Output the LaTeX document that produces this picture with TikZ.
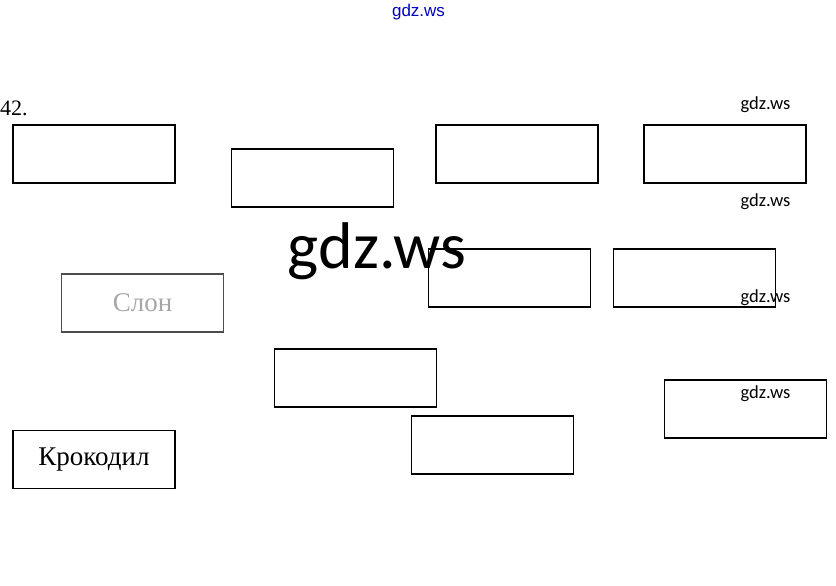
\documentclass[tikz,border=0pt]{standalone}
\usepackage{fontspec}
\setmainfont{Liberation Serif}
\newfontfamily\wmfont{Carlito}
\newfontfamily\linkfont{Liberation Sans}
\begin{document}
\begin{tikzpicture}[x=1pt,y=-1pt,
    box/.style={draw,line width=1.2pt,minimum width=162pt,minimum height=58pt,inner sep=0pt,
      font=\fontsize{27}{30}\selectfont},
    faded/.style={box,draw=black!70,text=black!35},
    wm/.style={anchor=base,inner sep=0pt,font=\wmfont\fontsize{18.5}{20}\selectfont}]
  \useasboundingbox (0,0) rectangle (836,586);
  \node[anchor=base west,inner sep=0pt,font=\fontsize{22}{24}\selectfont] (num) at (0,116) {42.};
  \draw
    (94,154) node[box] (0){}
    (312.5,178) node[box] (1){}
    (517,154) node[box] (2){}
    (725,154) node[box] (3){}
    (142.5,303) node[faded] (4){Слон}
    (509.5,278) node[box] (5){}
    (694.5,278) node[box] (6){}
    (355.5,378) node[box] (7){}
    (745.5,409) node[box] (8){}
    (492.5,445) node[box] (9){}
    (94,459.5) node[box] (10){Крокодил};
  \begin{scope}[every node/.style=wm]
    \node (w1) at (765.5,110) {gdz.ws};
    \node (w2) at (765.5,206) {gdz.ws};
    \node (w3) at (765.5,302) {gdz.ws};
    \node (w4) at (765.5,398) {gdz.ws};
    \node[font=\wmfont\fontsize{66}{70}\selectfont] (w0) at (377,268) {gdz.ws};
    \node[font=\linkfont\fontsize{17}{18}\selectfont,text=blue!75!black] (top) at (418.5,17) {gdz.ws};
  \end{scope}
\end{tikzpicture}
\end{document}
